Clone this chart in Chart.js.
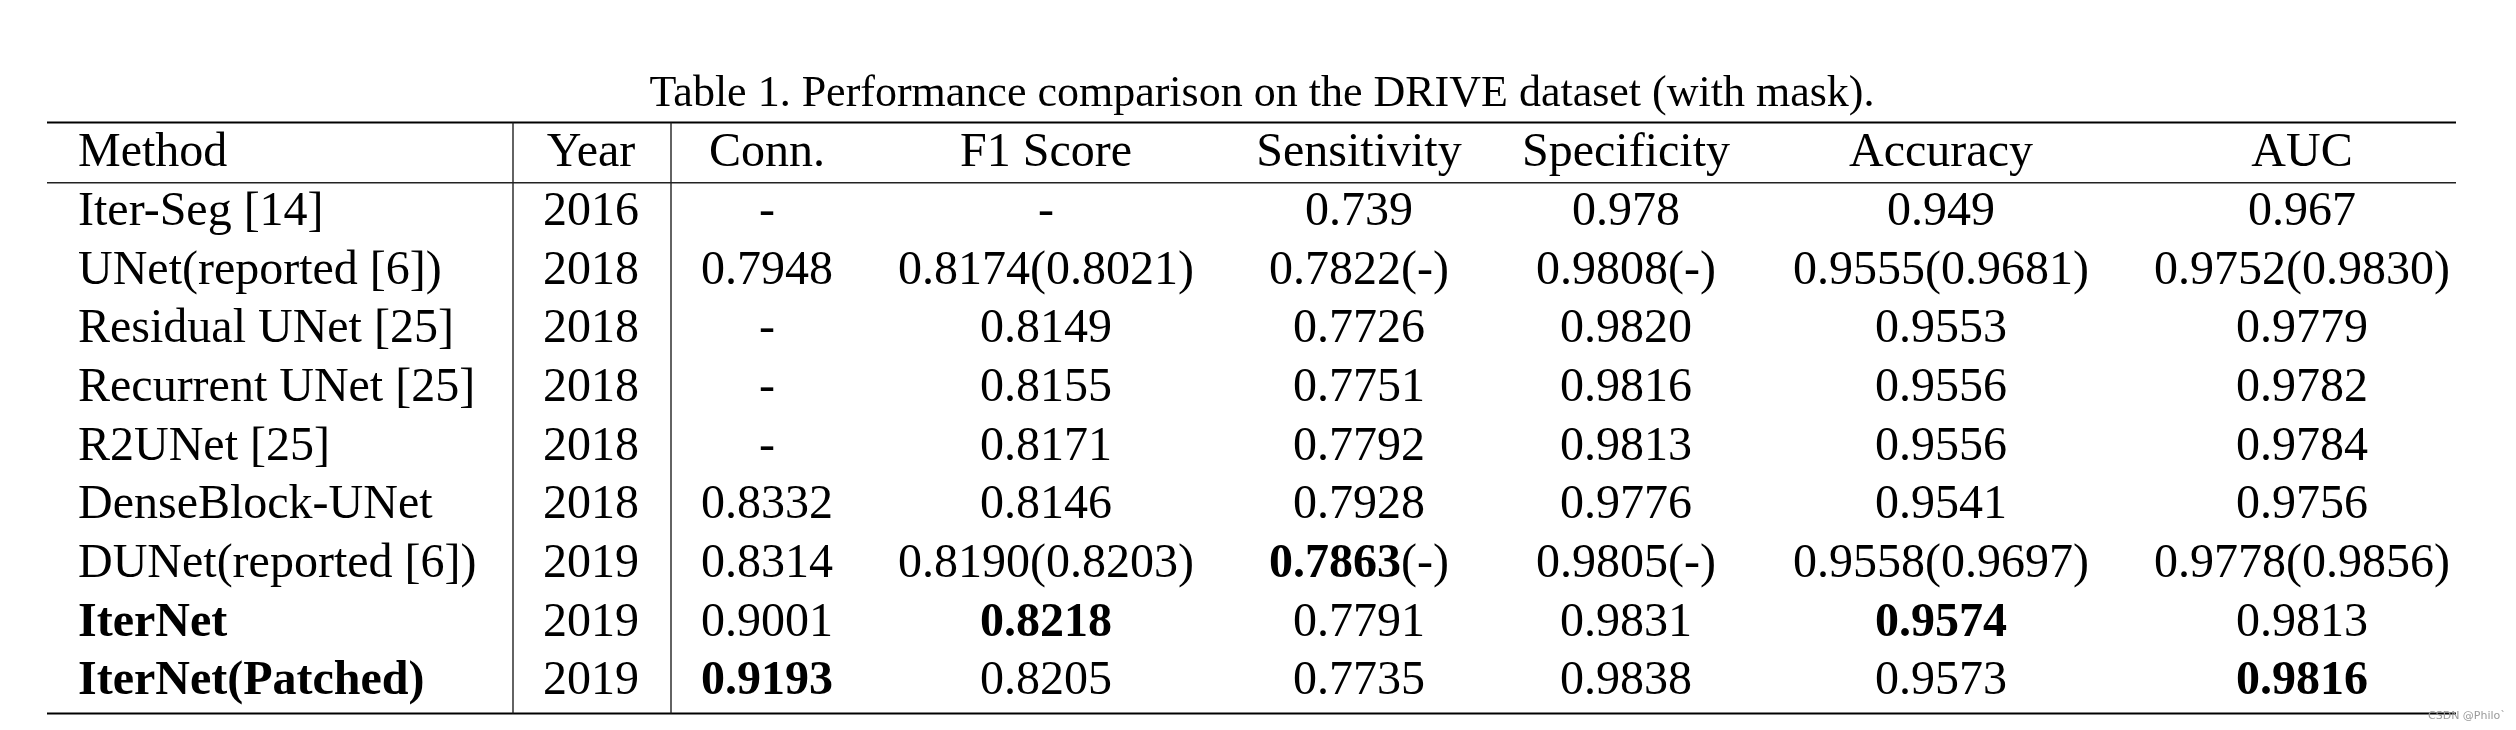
<!DOCTYPE html>
<html>
<head>
<meta charset="utf-8">
<script src="https://cdn.jsdelivr.net/npm/chart.js"></script>
<style>
  html, body { margin: 0; padding: 0; background: #fff; }
  canvas { display: block; }
</style>
</head>
<body>
<canvas id="table" width="2516" height="730"></canvas>
<script>
// table contents
const headers = ['Method', 'Year', 'Conn.', 'F1 Score', 'Sensitivity', 'Specificity', 'Accuracy', 'AUC'];
const methods = ['Iter-Seg [14]', 'UNet(reported [6])', 'Residual UNet [25]', 'Recurrent UNet [25]', 'R2UNet [25]',
  'DenseBlock-UNet', 'DUNet(reported [6])', 'IterNet', 'IterNet(Patched)'];
const years = ['2016', '2018', '2018', '2018', '2018', '2018', '2019', '2019', '2019'];
const conn = ['-', '0.7948', '-', '-', '-', '0.8332', '0.8314', '0.9001', '0.9193'];
const f1Score = ['-', '0.8174(0.8021)', '0.8149', '0.8155', '0.8171', '0.8146', '0.8190(0.8203)', '0.8218', '0.8205'];
const sensitivity = ['0.739', '0.7822(-)', '0.7726', '0.7751', '0.7792', '0.7928', '0.7863(-)', '0.7791', '0.7735'];
const specificity = ['0.978', '0.9808(-)', '0.9820', '0.9816', '0.9813', '0.9776', '0.9805(-)', '0.9831', '0.9838'];
const accuracy = ['0.949', '0.9555(0.9681)', '0.9553', '0.9556', '0.9556', '0.9541', '0.9558(0.9697)', '0.9574', '0.9573'];
const auc = ['0.967', '0.9752(0.9830)', '0.9779', '0.9782', '0.9784', '0.9756', '0.9778(0.9856)', '0.9813', '0.9816'];
// best results, set in bold: [row, column header]
const boldCells = [[7, 'Method'], [8, 'Method'], [8, 'Conn.'], [7, 'F1 Score'], [6, 'Sensitivity'], [7, 'Accuracy'], [8, 'AUC']];

const columns = [methods, years, conn, f1Score, sensitivity, specificity, accuracy, auc];

// layout (x in canvas units, y in row units; header row = 0)
const colX = [78, 591, 767, 1046, 1359, 1626, 1941, 2302];
const tableLeft = 47, tableRight = 2456;
const vLines = [513, 671];
const ruleTop = -0.75, ruleHead = 0.277, ruleBottom = 9.33;
const FONT = "'Liberation Serif', 'Times New Roman', serif";

const isBold = (r, c) => boldCells.some(b => b[0] === r && b[1] === headers[c]);

function drawCell(ctx, text, x, y, align, bold, whole) {
  ctx.textBaseline = 'alphabetic';
  let boldPart = '', rest = text;
  if (bold) {
    const k = whole ? -1 : text.indexOf('(');
    boldPart = k < 0 ? text : text.slice(0, k);
    rest = k < 0 ? '' : text.slice(k);
  }
  ctx.font = 'bold 48px ' + FONT;
  const wb = boldPart ? ctx.measureText(boldPart).width : 0;
  ctx.font = '48px ' + FONT;
  const wr = rest ? ctx.measureText(rest).width : 0;
  let x0 = align === 'left' ? x : x - (wb + wr) / 2;
  ctx.textAlign = 'left';
  if (boldPart) {
    ctx.font = 'bold 48px ' + FONT;
    ctx.fillText(boldPart, x0, y);
  }
  if (rest) {
    ctx.font = '48px ' + FONT;
    ctx.fillText(rest, x0 + wb, y);
  }
}

const tablePlugin = {
  id: 'tableText',
  afterDatasetsDraw(chart) {
    const { ctx, scales: { x, y } } = chart;
    ctx.save();
    ctx.fillStyle = '#000';

    // rules
    ctx.strokeStyle = '#000';
    ctx.lineWidth = 2.2;
    [ruleTop, ruleBottom].forEach(v => {
      const py = y.getPixelForValue(v);
      ctx.beginPath();
      ctx.moveTo(x.getPixelForValue(tableLeft), py);
      ctx.lineTo(x.getPixelForValue(tableRight), py);
      ctx.stroke();
    });
    ctx.lineWidth = 1.5;
    ctx.strokeStyle = '#222';
    let py = y.getPixelForValue(ruleHead);
    ctx.beginPath();
    ctx.moveTo(x.getPixelForValue(tableLeft), py);
    ctx.lineTo(x.getPixelForValue(tableRight), py);
    ctx.stroke();
    ctx.lineWidth = 1.4;
    vLines.forEach(v => {
      const px = x.getPixelForValue(v);
      ctx.beginPath();
      ctx.moveTo(px, y.getPixelForValue(ruleTop));
      ctx.lineTo(px, y.getPixelForValue(ruleBottom));
      ctx.stroke();
    });

    // header row
    headers.forEach((h, c) => {
      drawCell(ctx, h, x.getPixelForValue(colX[c]), y.getPixelForValue(0), c === 0 ? 'left' : 'center', false, false);
    });

    // body cells, placed at each dataset point
    chart.data.datasets.forEach((ds, c) => {
      const meta = chart.getDatasetMeta(c);
      meta.data.forEach((pt, r) => {
        drawCell(ctx, columns[c][r], pt.x, pt.y, c === 0 ? 'left' : 'center', isBold(r, c), c === 0);
      });
    });

    // watermark
    ctx.font = '11px ' + "'DejaVu Sans', sans-serif";
    ctx.fillStyle = '#9a9a9a';
    ctx.textAlign = 'left';
    ctx.textBaseline = 'middle';
    ctx.fillText('CSDN @Philo`', 2428, 716);
    ctx.restore();
  }
};

new Chart(document.getElementById('table'), {
  type: 'scatter',
  data: {
    datasets: columns.map((col, c) => ({
      label: headers[c],
      data: col.map((v, r) => ({ x: colX[c], y: r + 1 })),
      pointRadius: 0,
      pointHoverRadius: 0
    }))
  },
  options: {
    responsive: false,
    animation: false,
    devicePixelRatio: 1,
    layout: { padding: { left: 8 } },
    scales: {
      x: { type: 'linear', min: 8, max: 2516, display: false },
      y: { type: 'linear', reverse: true, min: -0.786, max: 9.611, display: false }
    },
    plugins: {
      legend: { display: false },
      tooltip: { enabled: false },
      title: {
        display: true,
        text: 'Table 1. Performance comparison on the DRIVE dataset (with mask).',
        color: '#000',
        font: { family: FONT, size: 44, weight: 'normal' },
        padding: { top: 67.6, bottom: 0 }
      }
    }
  },
  plugins: [tablePlugin]
});
</script>
</body>
</html>
